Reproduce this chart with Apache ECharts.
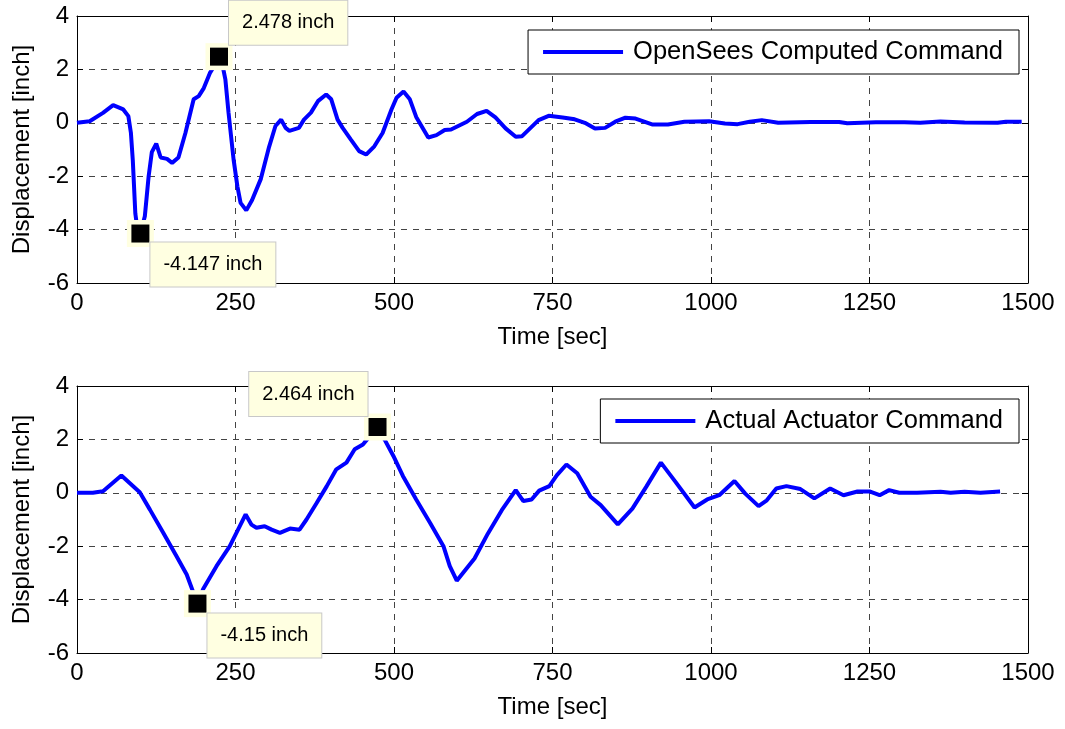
<!DOCTYPE html>
<html>
<head>
<meta charset="utf-8">
<script src="https://cdn.jsdelivr.net/npm/echarts@6/dist/echarts.min.js"></script>
<style>
html,body{margin:0;padding:0;background:#fff;}
#chart{width:1065px;height:729px;}
</style>
</head>
<body>
<div id="chart"></div>
<script>
// ---- data ----
const xTicks = [0, 250, 500, 750, 1000, 1250, 1500];
const yTicks = [-6, -4, -2, 0, 2, 4];

const timeTop = [0,20,41,57,73,81,85,88,90,92,94,100,107,110,113,118,125,132,142,150,160,171,184,192,200,210,218,224,230,234,239,247,253,258,267,276,290,303,313,322,329,335,350,358,369,380,393,401,411,419,432,445,456,469,482,496,504,515,525,535,554,567,580,590,615,631,646,660,676,692,702,728,744,766,785,801,817,833,849,865,881,907,932,958,997,1022,1042,1061,1080,1106,1157,1202,1215,1260,1305,1330,1362,1400,1452,1465,1490];
const dispTop = [0,0.06,0.37,0.66,0.5,0.25,-0.37,-1.4,-2.4,-3.4,-3.75,-4.147,-3.5,-2.75,-2.0,-1.1,-0.78,-1.3,-1.35,-1.5,-1.3,-0.38,0.88,1.0,1.3,1.88,2.19,2.478,2.1,1.63,0.38,-1.38,-2.38,-3.0,-3.28,-2.9,-2.1,-0.9,-0.12,0.12,-0.19,-0.3,-0.19,0.12,0.38,0.81,1.06,0.88,0.12,-0.19,-0.63,-1.06,-1.19,-0.88,-0.38,0.5,0.94,1.17,0.88,0.22,-0.55,-0.46,-0.27,-0.25,0.04,0.33,0.45,0.2,-0.21,-0.52,-0.5,0.1,0.26,0.2,0.13,0,-0.21,-0.19,0.04,0.19,0.16,-0.06,-0.06,0.04,0.06,-0.03,-0.05,0.04,0.1,0,0.03,0.03,-0.02,0.02,0.02,0,0.05,0.01,0,0.04,0.04];

const timeBottom = [0,25,41,70,99,115,136,157,173,190,199,220,241,254,266,275,283,296,307,320,336,351,362,378,394,409,425,438,451,474,485,499,514,535,557,578,588,599,627,648,670,692,704,717,729,745,757,772,789,810,826,853,876,898,921,944,974,994,1013,1037,1054,1075,1088,1103,1119,1141,1163,1188,1209,1231,1250,1266,1281,1297,1325,1362,1378,1400,1425,1456];
const dispBottom = [0,0,0.06,0.65,0.02,-0.63,-1.5,-2.38,-3.06,-4.15,-3.6,-2.75,-2.0,-1.38,-0.81,-1.19,-1.31,-1.25,-1.38,-1.5,-1.34,-1.38,-1.0,-0.38,0.25,0.88,1.13,1.63,1.81,2.464,2.0,1.38,0.63,-0.25,-1.13,-2.0,-2.75,-3.29,-2.46,-1.53,-0.65,0.1,-0.31,-0.25,0.08,0.25,0.66,1.06,0.73,-0.15,-0.46,-1.18,-0.59,0.23,1.13,0.41,-0.55,-0.25,-0.09,0.44,-0.03,-0.5,-0.28,0.16,0.25,0.14,-0.21,0.16,-0.09,0.05,0.05,-0.09,0.1,0,0,0.04,0,0.04,0,0.05];

const tipTimesTop = [100, 224];
const tipValuesTop = [-4.147, 2.478];
const tipTimesBottom = [190, 474];
const tipValuesBottom = [-4.15, 2.464];

const seriesNames = ['OpenSees Computed Command', 'Actual Actuator Command'];
const xName = 'Time [sec]';
const yName = 'Displacement [inch]';

// ---- styles ----
const FONT = "'Liberation Sans', Arial, sans-serif";
const gridLine = {show: true, lineStyle: {color: '#444', type: [6, 6], width: 1}};

function zip(a, b) { return a.map((t, i) => [t, b[i]]); }

function xAxes(gi) {
  return [
    {gridIndex: gi, type: 'value', min: xTicks[0], max: xTicks[xTicks.length - 1], interval: xTicks[1] - xTicks[0], position: 'bottom',
     name: xName, nameLocation: 'middle', nameGap: 42,
     nameTextStyle: {fontFamily: FONT, fontSize: 24, color: '#000'},
     axisLine: {show: true, onZero: false, lineStyle: {color: '#000', width: 1}},
     axisTick: {show: true, inside: true, length: 6, lineStyle: {color: '#000'}},
     axisLabel: {fontFamily: FONT, fontSize: 24, color: '#000', margin: 8, formatter: v => String(v)},
     splitLine: gridLine},
    {gridIndex: gi, type: 'value', min: xTicks[0], max: xTicks[xTicks.length - 1], interval: xTicks[1] - xTicks[0], position: 'top',
     axisLine: {show: true, onZero: false, lineStyle: {color: '#000', width: 1}},
     axisTick: {show: true, inside: true, length: 6, lineStyle: {color: '#000'}},
     axisLabel: {show: false}, splitLine: {show: false}}
  ];
}
function yAxes(gi) {
  return [
    {gridIndex: gi, type: 'value', min: yTicks[0], max: yTicks[yTicks.length - 1], interval: yTicks[1] - yTicks[0], position: 'left',
     name: yName, nameLocation: 'middle', nameGap: 43, nameRotate: 90,
     nameTextStyle: {fontFamily: FONT, fontSize: 24, color: '#000'},
     axisLine: {show: true, onZero: false, lineStyle: {color: '#000', width: 1}},
     axisTick: {show: true, inside: true, length: 6, lineStyle: {color: '#000'}},
     axisLabel: {fontFamily: FONT, fontSize: 24, color: '#000', margin: 8, formatter: v => String(v)},
     splitLine: gridLine},
    {gridIndex: gi, type: 'value', min: yTicks[0], max: yTicks[yTicks.length - 1], interval: yTicks[1] - yTicks[0], position: 'right',
     axisLine: {show: true, onZero: false, lineStyle: {color: '#000', width: 1}},
     axisTick: {show: true, inside: true, length: 6, lineStyle: {color: '#000'}},
     axisLabel: {show: false}, splitLine: {show: false}}
  ];
}

const labelBox = {
  show: true, fontFamily: FONT, fontSize: 20, color: '#000',
  backgroundColor: '#ffffe1', borderColor: '#c8c8c8', borderWidth: 1,
  padding: [11, 13, 11, 13], lineHeight: 22
};
function tipData(times, values, positions, aligns) {
  return times.map((t, i) => ({
    value: [t, values[i]],
    label: Object.assign({}, labelBox, {
      position: positions[i], align: aligns[i], verticalAlign: 'top',
      formatter: values[i] + ' inch'
    })
  }));
}

const legendBase = {
  orient: 'vertical', right: 46,
  backgroundColor: '#fff', borderColor: '#000', borderWidth: 1, borderRadius: 0,
  padding: [9, 16, 9, 15], icon: 'rect', itemWidth: 80, itemHeight: 4,
  textStyle: {fontFamily: FONT, fontSize: 25.5, color: '#000', padding: [0, 0, 0, 5]}
};

const option = {
  animation: false,
  backgroundColor: '#fff',
  textStyle: {fontFamily: FONT},
  grid: [
    {left: 77, width: 951, top: 16, height: 267},
    {left: 77, width: 951, top: 386, height: 267}
  ],
  xAxis: xAxes(0).concat(xAxes(1)),
  yAxis: yAxes(0).concat(yAxes(1)),
  legend: [
    Object.assign({}, legendBase, {data: [seriesNames[0]], top: 30}),
    Object.assign({}, legendBase, {data: [seriesNames[1]], top: 399})
  ],
  series: [
    {name: seriesNames[0], type: 'line', xAxisIndex: 0, yAxisIndex: 0,
     data: zip(timeTop, dispTop), showSymbol: false, smooth: false,
     lineStyle: {color: '#0000ff', width: 4}, itemStyle: {color: '#0000ff'}, z: 2},
    {name: seriesNames[1], type: 'line', xAxisIndex: 2, yAxisIndex: 2,
     data: zip(timeBottom, dispBottom), showSymbol: false, smooth: false,
     lineStyle: {color: '#0000ff', width: 4}, itemStyle: {color: '#0000ff'}, z: 2},
    // data tip backgrounds
    {type: 'scatter', xAxisIndex: 0, yAxisIndex: 0, symbol: 'rect', symbolSize: 27,
     data: zip(tipTimesTop, tipValuesTop), itemStyle: {color: '#ffffe1', opacity: 1}, z: 3, silent: true},
    {type: 'scatter', xAxisIndex: 2, yAxisIndex: 2, symbol: 'rect', symbolSize: 27,
     data: zip(tipTimesBottom, tipValuesBottom), itemStyle: {color: '#ffffe1', opacity: 1}, z: 3, silent: true},
    // data tip markers with labels
    {type: 'scatter', xAxisIndex: 0, yAxisIndex: 0, symbol: 'rect', symbolSize: 18,
     data: tipData(tipTimesTop, tipValuesTop, [[19, 18], [19, -47]], ['left', 'left']),
     itemStyle: {color: '#000', opacity: 1}, z: 4, silent: true},
    {type: 'scatter', xAxisIndex: 2, yAxisIndex: 2, symbol: 'rect', symbolSize: 18,
     data: tipData(tipTimesBottom, tipValuesBottom, [[19, 19], [-1, -46]], ['left', 'right']),
     itemStyle: {color: '#000', opacity: 1}, z: 4, silent: true}
  ]
};

const chart = echarts.init(document.getElementById('chart'), null, {renderer: 'canvas'});
chart.setOption(option);
</script>
</body>
</html>
